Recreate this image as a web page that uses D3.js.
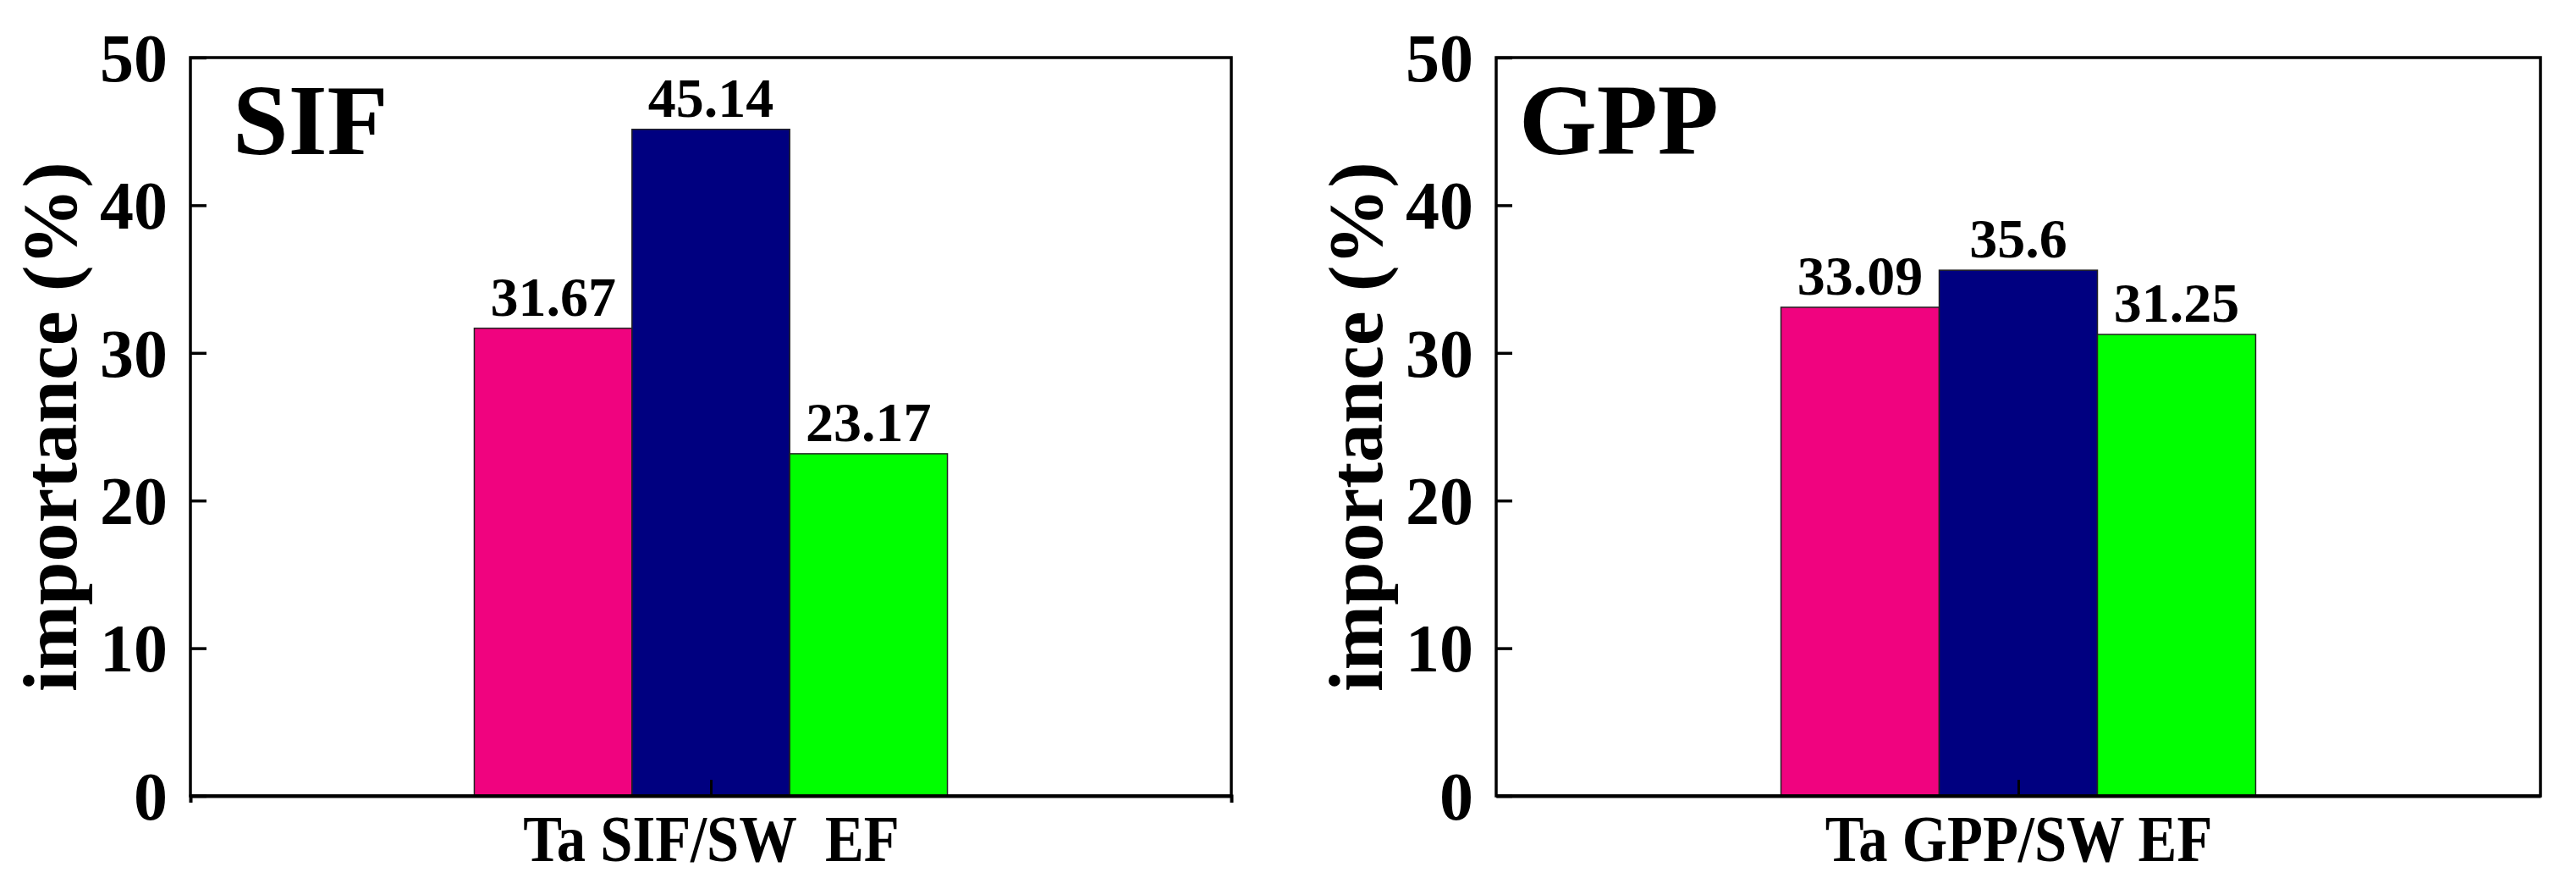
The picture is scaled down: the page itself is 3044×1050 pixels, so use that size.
<!DOCTYPE html>
<html>
<head>
<meta charset="utf-8">
<script src="https://cdn.jsdelivr.net/npm/d3@7"></script>
<style>
  html, body { margin: 0; padding: 0; background: #fff; }
  svg { display: block; }
  text { font-family: "Liberation Serif", "Times New Roman", serif; font-weight: bold; }
</style>
</head>
<body>
<script>
// chart data
var panelTitles = ["SIF", "GPP"];
var sifCategories = ["Ta", "SIF/SW", "EF"];
var gppCategories = ["Ta", "GPP/SW", "EF"];
var sifValues = [31.67, 45.14, 23.17];
var gppValues = [33.09, 35.6, 31.25];
var xAxisLabels = ["Ta SIF/SW  EF", "Ta GPP/SW EF"];
var yTicks = [0, 10, 20, 30, 40, 50];
var barColors = ["#f0037f", "#000080", "#00ff00"];
var yLabel = "importance (%)";

var width = 3044;
var height = 1050;

var svg = d3.select("body").append("svg")
  .attr("width", width)
  .attr("height", height);

// note: "top" is taken by window.top, so plotTop
var plotTop = 68, plotBottom = 940;
var panels = [
  { left: 225, right: 1455, title: panelTitles[0], titleX: 50, cats: sifCategories, values: sifValues, xlabel: xAxisLabels[0], outer: 8 },
  { left: 1768, right: 3002, title: panelTitles[1], titleX: 27, cats: gppCategories, values: gppValues, xlabel: xAxisLabels[1], outer: 0 }
];

var y = d3.scaleLinear().domain([0, 50]).range([plotBottom, plotTop]);

panels.forEach(function(p) {
  var w = p.right - p.left;
  var g = svg.append("g").attr("transform", "translate(" + p.left + ",0)");

  var x = d3.scaleBand()
    .domain(p.cats)
    .range([0, w])
    .paddingInner(0)
    .paddingOuter(1.8);

  // bars
  g.selectAll("rect.bar")
    .data(p.values)
    .enter().append("rect")
    .attr("class", "bar")
    .attr("x", function(d, i) { return x(p.cats[i]); })
    .attr("y", function(d) { return y(d); })
    .attr("width", x.bandwidth())
    .attr("height", function(d) { return y(0) - y(d); })
    .style("fill", function(d, i) { return barColors[i]; })
    .style("stroke", "#222")
    .style("stroke-width", 1.5);

  // value labels
  g.selectAll("text.val")
    .data(p.values)
    .enter().append("text")
    .attr("class", "val")
    .attr("x", function(d, i) { return x(p.cats[i]) + x.bandwidth() / 2; })
    .attr("y", function(d) { return y(d) - 15; })
    .attr("text-anchor", "middle")
    .attr("font-size", 66)
    .text(function(d) { return String(d); });

  // y axis
  var yAxis = d3.axisLeft(y)
    .tickValues(yTicks)
    .tickSizeInner(-19)
    .tickSizeOuter(0)
    .tickPadding(27);
  var ya = g.append("g").call(yAxis);
  ya.select(".domain").remove();
  ya.selectAll(".tick line").attr("stroke", "#000").attr("stroke-width", 3.5);
  ya.selectAll(".tick text")
    .attr("font-size", 80)
    .attr("font-family", "Liberation Serif, serif")
    .attr("font-weight", "bold")
    .attr("dy", "0.34em")
    .attr("fill", "#000");

  // x axis: single centred category
  var xc = d3.scalePoint().domain([p.xlabel]).range([0, w]).padding(0.5);
  var xAxis = d3.axisBottom(xc)
    .tickSizeInner(-19)
    .tickSizeOuter(p.outer)
    .tickPadding(22);
  var xa = g.append("g").attr("transform", "translate(0," + plotBottom + ")").call(xAxis);
  xa.select(".domain").attr("stroke", "#000").attr("stroke-width", 4);
  xa.selectAll(".tick line").attr("stroke", "#000").attr("stroke-width", 3);
  xa.selectAll(".tick text")
    .attr("font-size", 78)
    .attr("font-family", "Liberation Serif, serif")
    .attr("font-weight", "bold")
    .attr("fill", "#000")
    .attr("transform", "scale(0.88,1)")
    .style("white-space", "pre");

  // frame
  g.append("rect")
    .attr("x", 0)
    .attr("y", plotTop)
    .attr("width", w)
    .attr("height", plotBottom - plotTop)
    .style("fill", "none")
    .style("stroke", "#000")
    .style("stroke-width", 3.5);

  // panel title
  g.append("text")
    .attr("x", p.titleX)
    .attr("y", 182)
    .attr("font-size", 118)
    .text(p.title);

  // y axis label
  g.append("text")
    .attr("transform", "translate(-135," + ((plotTop + plotBottom) / 2) + ") rotate(-90)")
    .attr("text-anchor", "middle")
    .attr("font-size", 92)
    .text(yLabel);
});
</script>
</body>
</html>
